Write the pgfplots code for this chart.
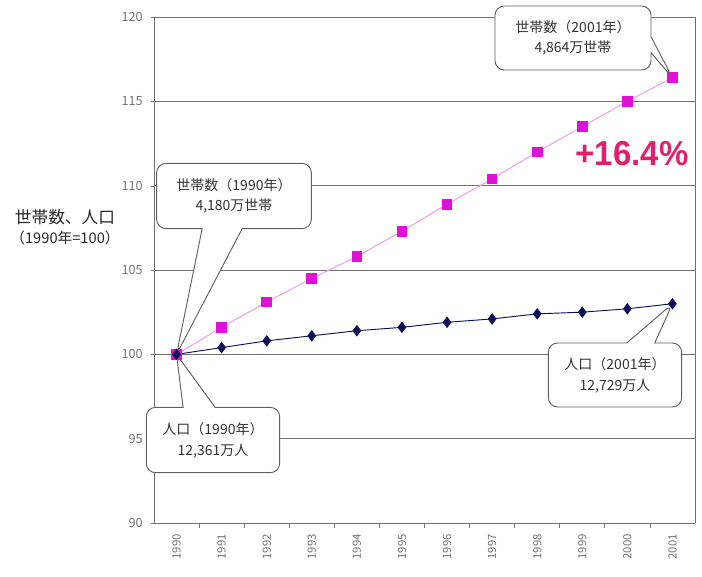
\documentclass[border=0pt]{standalone}
\usepackage{pgfplots}
\pgfplotsset{compat=1.18}
\usepackage{fontspec}
\setmainfont{Noto Sans CJK JP}
\newfontfamily\latinbold{Liberation Sans}
\usetikzlibrary{shapes.callouts}

\definecolor{hhcol}{HTML}{E010D8}
\definecolor{hhline}{HTML}{F0A0E8}
\definecolor{popcol}{HTML}{10105A}
\definecolor{pctcol}{HTML}{E0206E}
\definecolor{gridc}{HTML}{707070}

% index values, 1990 = 100
\pgfplotstableread{
x households population
0  100.0 100.0
1  101.6 100.4
2  103.1 100.8
3  104.5 101.1
4  105.8 101.4
5  107.3 101.6
6  108.9 101.9
7  110.4 102.1
8  112.0 102.4
9  113.5 102.5
10 115.0 102.7
11 116.4 103.0
}\indexdata

\begin{document}
\begin{tikzpicture}[x=0.75pt,y=0.75pt]
% picture frame: 702 x 576 px, plot area origin at px (154,523)
\useasboundingbox (-154,-53) rectangle (548,523);
\begin{axis}[
    at={(0,0)}, anchor=south west,
    scale only axis,
    width=405.75pt, height=379.5pt,
    xmin=-0.5, xmax=11.5,
    ymin=90, ymax=120,
    xtick={0,...,11},
    xticklabels={1990,1991,1992,1993,1994,1995,1996,1997,1998,1999,2000,2001},
    minor xtick={0.5,1.5,...,10.5},
    major x tick style={draw=none},
    minor x tick style={gridc, line width=0.6pt},
    minor tick length=4pt,
    x tick label style={rotate=90, anchor=east, yshift=0pt, xshift=-3pt,
        font=\fontsize{8.5}{9}\selectfont, text=gray!90!black},
    ytick={90,95,...,120},
    y tick label style={xshift=-3pt, font=\fontsize{9.5}{10}\selectfont, text=gray!90!black},
    /pgf/number format/assume math mode=true,
    ymajorgrids,
    major grid style={gridc, line width=0.7pt},
    major y tick style={gridc},
    tick align=outside,
    major tick length=2pt,
    axis line style={gridc, line width=0.7pt},
    axis x line*=bottom,
    axis y line*=left,
    clip=false,
]
\draw[gridc, line width=0.7pt] (axis cs:11.5,90) -- (axis cs:11.5,120);
\addplot[hhline, line width=0.8pt, mark=square*, mark size=3.6pt,
    mark options={fill=hhcol, draw=hhcol}] table[x=x, y=households] {\indexdata};
\addplot[popcol, line width=0.7pt, mark=diamond*, mark size=3.8pt,
    mark options={fill=popcol, draw=popcol}] table[x=x, y=population] {\indexdata};
\coordinate (h0) at (axis cs:0,100);
\coordinate (h11) at (axis cs:11,116.4);
\coordinate (p11) at (axis cs:11,103.0);
\end{axis}

\tikzset{callbox/.style={rectangle callout, draw=gray!75!black, fill=white, line width=0.7pt,
    rounded corners=7pt, align=center, inner xsep=6pt, inner ysep=6pt,
    font=\fontsize{10.5}{15.5}\selectfont, text=black!80}}

\node[callbox, minimum width=117pt, minimum height=48pt,
    callout absolute pointer={(h11)}, callout pointer width=12pt]
    at (419,485) {世帯数（2001年）\\4,864万世帯};
\node[callbox, minimum width=116pt, minimum height=49pt,
    callout absolute pointer={(h0)}, callout pointer width=30pt]
    at (80,327) {世帯数（1990年）\\4,180万世帯};
\node[callbox, minimum width=100pt, minimum height=49pt,
    callout absolute pointer={(h0)}, callout pointer width=24pt]
    at (59,83) {人口（1990年）\\12,361万人};
\node[callbox, minimum width=100pt, minimum height=48pt,
    callout absolute pointer={(p11)}, callout pointer width=21pt]
    at (461,148) {人口（2001年）\\12,729万人};

\node[font=\latinbold\bfseries\fontsize{26}{26}\selectfont, text=pctcol, xscale=0.95]
    at (478,369) {+16.4\%};

\node[align=center, text=black!85] at (-89,296)
    {{\fontsize{12.5}{16}\selectfont 世帯数、人口}\\[3pt]{\fontsize{11}{13}\selectfont （1990年=100）}};
\end{tikzpicture}
\end{document}
